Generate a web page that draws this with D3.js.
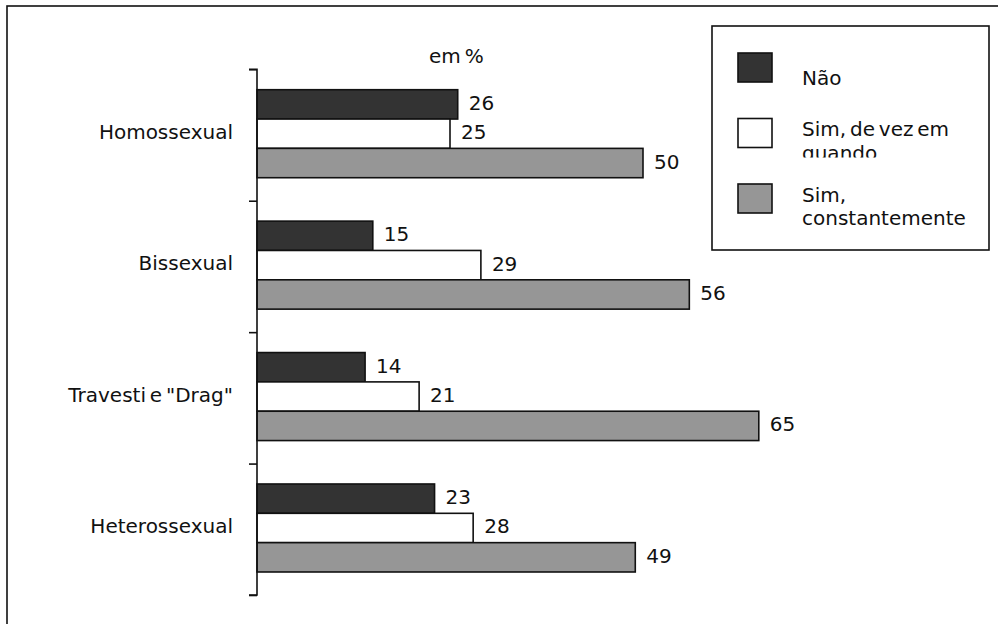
<!DOCTYPE html>
<html>
<head>
<meta charset="utf-8">
<script src="https://cdn.jsdelivr.net/npm/d3@7"></script>
<style>
  html, body { margin: 0; padding: 0; background: #fff; }
  svg { display: block; }
  text { font-family: "DejaVu Sans", sans-serif; font-size: 20px; fill: #111; word-spacing: -2.5px; }
</style>
</head>
<body>
<svg id="chart" width="998" height="624"></svg>
<script>
// Categories and series (values in %)
const categories = ["Homossexual", "Bissexual", "Travesti e \"Drag\"", "Heterossexual"];
const seriesNames = ["Não", "Sim, de vez em quando", "Sim, constantemente"];
const legendLines = [["Não"], ["Sim, de vez em", "quando"], ["Sim,", "constantemente"]];
const naoValues = [26, 15, 14, 23];
const deVezValues = [25, 29, 21, 28];
const constanteValues = [50, 56, 65, 49];
const seriesColors = ["#333333", "#ffffff", "#969696"];
const unitLabel = "em %";

const seriesValues = [naoValues, deVezValues, constanteValues];

const svg = d3.select("#chart");

// Outer frame (right and bottom edges run past the page)
svg.append("rect")
  .attr("x", 7).attr("y", 6).attr("width", 1100).attr("height", 1100)
  .attr("fill", "none").attr("stroke", "#111").attr("stroke-width", 1.6);

const axisX = 257;
const plotTop = 69.3, plotBottom = 595;

const x = d3.scaleLinear().domain([0, 100]).range([axisX, axisX + 772]);

const y = d3.scaleBand().domain(categories).range([plotTop, plotBottom]).padding(0);

const ySeries = d3.scaleBand()
  .domain(seriesNames)
  .range([0, y.bandwidth()])
  .paddingInner(0)
  .paddingOuter(0.74)
  .align(0.47);

// Bars
const groups = svg.append("g").selectAll("g")
  .data(categories)
  .join("g")
  .attr("transform", d => `translate(0,${y(d)})`);

groups.each(function(cat, ci) {
  const g = d3.select(this);
  seriesNames.forEach((s, si) => {
    const v = seriesValues[si][ci];
    g.append("rect")
      .attr("x", x(0))
      .attr("y", ySeries(s))
      .attr("width", x(v) - x(0))
      .attr("height", ySeries.bandwidth())
      .attr("fill", seriesColors[si])
      .attr("stroke", "#111")
      .attr("stroke-width", 1.6);
    g.append("text")
      .attr("x", x(v) + 11)
      .attr("y", ySeries(s) + ySeries.bandwidth() / 2 + 5.5)
      .text(v);
  });
});

// Category axis with ticks at band boundaries
const boundary = d3.scaleLinear().domain([0, categories.length]).range([plotTop, plotBottom]);
svg.append("g")
  .attr("transform", `translate(${axisX},0)`)
  .call(d3.axisLeft(boundary).tickValues(d3.range(categories.length + 1)).tickSize(8).tickFormat(""))
  .call(g => g.select(".domain").attr("stroke", "#111").attr("stroke-width", 1.6).attr("d", `M-8,${plotTop}H0V${plotBottom}H-8`))
  .call(g => g.selectAll(".tick line").attr("stroke", "#111").attr("stroke-width", 1.6));

// Category labels
svg.append("g").selectAll("text")
  .data(categories)
  .join("text")
  .attr("x", 233)
  .attr("y", d => y(d) + y.bandwidth() / 2 + 4)
  .attr("text-anchor", "end")
  .text(d => d);

// Unit label
svg.append("text")
  .attr("x", 429).attr("y", 63)
  .text(unitLabel);

// Legend
const legend = svg.append("g");
legend.append("rect")
  .attr("x", 712).attr("y", 26).attr("width", 277).attr("height", 224)
  .attr("fill", "#fff").attr("stroke", "#111").attr("stroke-width", 1.6);

const legendY = d3.scalePoint().domain(seriesNames).range([53, 184]);

svg.append("defs").append("clipPath").attr("id", "legendClip")
  .append("rect").attr("x", 790).attr("y", 95).attr("width", 190).attr("height", 62.5);

seriesNames.forEach((s, i) => {
  const yy = legendY(s);
  legend.append("rect")
    .attr("x", 738).attr("y", yy).attr("width", 34).attr("height", 29)
    .attr("fill", seriesColors[i]).attr("stroke", "#111").attr("stroke-width", 1.6);
  const lines = legendLines[i];
  const t = legend.append("text")
    .attr("x", 802)
    .attr("y", yy + (lines.length === 1 ? 32 : 17.5));
  if (i === 1) t.attr("clip-path", "url(#legendClip)");
  lines.forEach((ln, li) => {
    t.append("tspan").attr("x", 802).attr("dy", li === 0 ? 0 : 23.5).text(ln);
  });
});
</script>
</body>
</html>
